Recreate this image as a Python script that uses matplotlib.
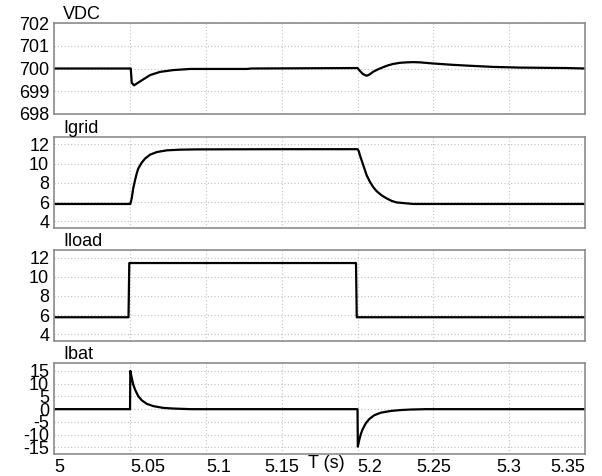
import matplotlib
matplotlib.use("Agg")
import matplotlib.pyplot as plt

plt.rcParams['font.family'] = ['Liberation Sans', 'DejaVu Sans']

# time axis
x_ticks = [5.0, 5.05, 5.1, 5.15, 5.2, 5.25, 5.3, 5.35]
x_labels = ["5", "5.05", "5.1", "5.15", "5.2", "5.25", "5.3", "5.35"]
x_align = ["left", "left", "left", "center", "left", "center", "center", "right"]

# VDC (V)
vdc_t = [5.0, 5.0505, 5.0511, 5.0526, 5.0554, 5.0587, 5.0632, 5.0697, 5.0785, 5.0895, 5.127, 5.13,
         5.2, 5.2015, 5.2035, 5.206, 5.208, 5.2104, 5.2137, 5.217, 5.2202, 5.2235, 5.228,
         5.2324, 5.2368, 5.2411, 5.2499, 5.2631, 5.2741, 5.2895, 5.307, 5.3378, 5.35]
vdc_v = [700.0, 700.0, 699.38, 699.26, 699.38, 699.52, 699.71, 699.85, 699.93, 699.98, 699.98, 700.0,
         700.02, 699.9, 699.76, 699.68, 699.74, 699.86, 699.97, 700.06, 700.14, 700.2, 700.25,
         700.27, 700.28, 700.27, 700.22, 700.16, 700.12, 700.07, 700.04, 700.02, 700.0]

# Igrid (A)
igrid_t = [5.0, 5.0502, 5.0511, 5.0521, 5.0533, 5.0544, 5.0554, 5.0577, 5.0599, 5.0632,
           5.0676, 5.0742, 5.0829, 5.0939, 5.15,
           5.2, 5.2008, 5.2016, 5.2038, 5.206, 5.2082, 5.2104, 5.2126, 5.2159, 5.2192,
           5.2225, 5.2258, 5.2367, 5.35]
igrid_v = [5.8, 5.8, 6.38, 7.41, 8.27, 8.97, 9.48, 10.1, 10.52, 10.93,
           11.2, 11.38, 11.45, 11.48, 11.5,
           11.5, 11.3, 10.86, 9.83, 8.8, 8.1, 7.55, 7.13, 6.7, 6.38,
           6.12, 5.96, 5.8, 5.8]

# Iload (A)
iload_t = [5.0, 5.049, 5.0495, 5.199, 5.1995, 5.35]
iload_v = [5.78, 5.78, 11.44, 11.44, 5.78, 5.78]

# Ibat (A)
ibat_t = [5.0, 5.05, 5.0502, 5.0511, 5.0521, 5.0533, 5.0554, 5.0577, 5.061, 5.0653,
          5.0719, 5.0785, 5.0851, 5.09,
          5.2, 5.2002, 5.2011, 5.2021, 5.2033, 5.2054, 5.2077, 5.211, 5.2153, 5.2219,
          5.2285, 5.235, 5.245, 5.35]
ibat_v = [0.0, 0.0, 15.0, 12.3, 9.7, 7.7, 5.1, 3.5, 2.1, 1.2,
          0.5, 0.24, 0.1, 0.0,
          0.0, -14.7, -12.2, -9.9, -8.0, -5.6, -3.9, -2.4, -1.4, -0.7,
          -0.35, -0.15, 0.0, 0.0]

panels = [
    ("VDC", vdc_t, vdc_v, (698, 702), [698, 699, 700, 701, 702]),
    ("Igrid", igrid_t, igrid_v, (3.3, 12.8), [4, 6, 8, 10, 12]),
    ("Iload", iload_t, iload_v, (3.3, 12.8), [4, 6, 8, 10, 12]),
    ("Ibat", ibat_t, ibat_v, (-17.6, 18), [-15, -10, -5, 0, 5, 10, 15]),
]

W, H = 602, 476
fig = plt.figure(figsize=(W / 100, H / 100), dpi=100)

# panel top/bottom in pixels
rows = [(23, 114), (136.7, 228), (250, 341), (363.3, 454)]
left, right = 54.2, 585

for i, (name, t, v, ylim, yticks) in enumerate(panels):
    top, bot = rows[i]
    ax = fig.add_axes([left / W, 1 - bot / H, (right - left) / W, (bot - top) / H])
    ax.plot(t, v, color="black", lw=1.6, solid_joinstyle="round")
    ax.set_xlim(5.0, 5.35)
    ax.set_ylim(*ylim)
    ax.set_yticks(yticks)
    ax.set_yticklabels([str(y) for y in yticks], fontsize=13)
    ax.set_xticks(x_ticks)
    ax.grid(True, color="#c0c0c0", linestyle=(0, (1, 2)), linewidth=0.8)
    ax.tick_params(length=0, pad=3.6)
    for s in ax.spines.values():
        s.set_color("#8c8c8c")
        s.set_linewidth(1.2)
    if i == 3:
        ax.set_xticklabels(x_labels, fontsize=13)
        for lab, ha in zip(ax.get_xticklabels(), x_align):
            lab.set_horizontalalignment(ha)
    else:
        ax.set_xticklabels([])
    fig.text(63 / W, 1 - (top - 4) / H, name, fontsize=13, ha="left", va="baseline")

fig.text(308 / W, 1 - 468 / H, "T (s)", fontsize=13, ha="left", va="baseline")

fig.savefig("out.png", dpi=100)
